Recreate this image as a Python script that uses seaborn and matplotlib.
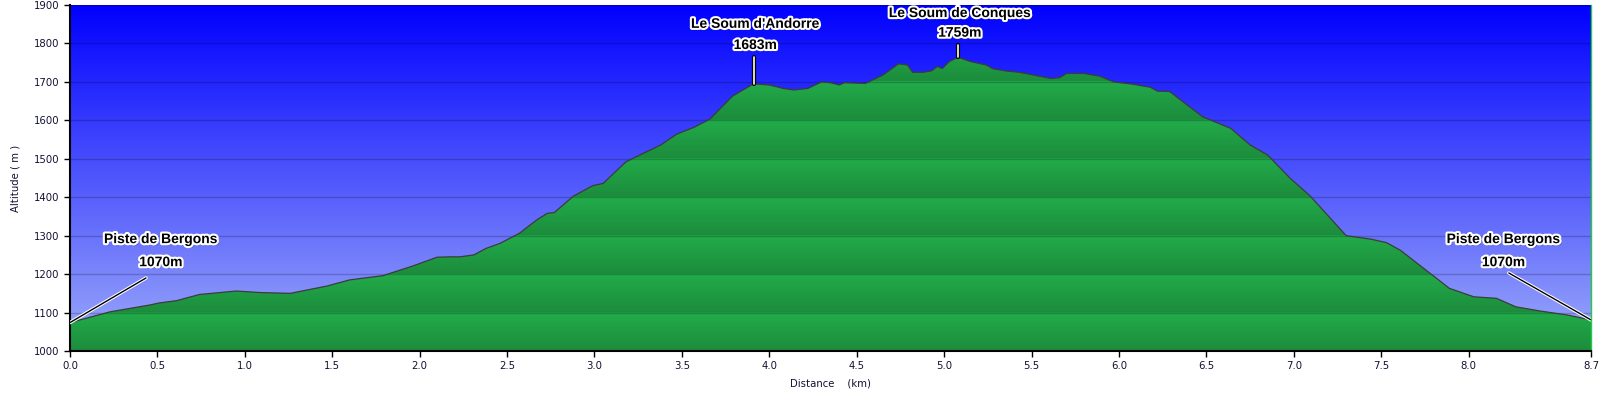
import matplotlib
matplotlib.use("Agg")
import matplotlib.pyplot as plt
import matplotlib.patheffects as pe
import numpy as np
import seaborn as sns

# elevation profile (distance in km, altitude in m)
dist_km = [0.00, 0.23, 0.46, 0.51, 0.61, 0.74, 0.95, 1.09, 1.26, 1.47, 1.60, 1.79, 1.96,
           2.10, 2.17, 2.23, 2.31, 2.38, 2.46, 2.57, 2.67, 2.73, 2.77, 2.88, 2.99, 3.05,
           3.11, 3.18, 3.26, 3.38, 3.47, 3.57, 3.66, 3.72, 3.79, 3.85, 3.91, 4.00, 4.08,
           4.14, 4.22, 4.30, 4.35, 4.40, 4.43, 4.55, 4.65, 4.74, 4.79, 4.82, 4.88, 4.93,
           4.96, 4.99, 5.03, 5.08, 5.15, 5.24, 5.28, 5.36, 5.43, 5.51, 5.61, 5.66, 5.70,
           5.80, 5.89, 5.97, 6.08, 6.18, 6.22, 6.29, 6.39, 6.48, 6.64, 6.75, 6.85, 6.98,
           7.09, 7.20, 7.30, 7.44, 7.53, 7.61, 7.78, 7.89, 8.03, 8.16, 8.27, 8.41, 8.56, 8.70]
alt_m = [1074, 1102, 1120, 1125, 1131, 1147, 1156, 1152, 1150, 1169, 1185, 1196, 1221,
         1244, 1245, 1245, 1250, 1267, 1280, 1306, 1341, 1358, 1360, 1403, 1430, 1436,
         1462, 1492, 1510, 1536, 1564, 1582, 1603, 1631, 1663, 1679, 1695, 1692, 1683,
         1679, 1683, 1700, 1698, 1692, 1698, 1696, 1718, 1747, 1744, 1725, 1725, 1729,
         1740, 1735, 1753, 1764, 1753, 1744, 1734, 1728, 1725, 1718, 1709, 1711, 1722,
         1722, 1715, 1700, 1694, 1686, 1676, 1675, 1640, 1609, 1579, 1536, 1510, 1449,
         1405, 1350, 1300, 1291, 1282, 1262, 1202, 1163, 1141, 1137, 1115, 1104, 1094, 1081]

# waypoint labels
wp_names = ["Piste de Bergons", "Le Soum d'Andorre", "Le Soum de Conques", "Piste de Bergons"]
wp_alt_text = ["1070m", "1683m", "1759m", "1070m"]
wp_km = [0.00, 3.91, 5.08, 8.70]

y_ticks = list(range(1000, 2000, 100))
x_ticks = [0.0, 0.5, 1.0, 1.5, 2.0, 2.5, 3.0, 3.5, 4.0, 4.5, 5.0, 5.5, 6.0, 6.5, 7.0, 7.5, 8.0, 8.7]

sns.set_style("white")
plt.rcParams['font.family'] = ['DejaVu Sans']

fig = plt.figure(figsize=(16, 3.94), dpi=100)
ax = fig.add_axes([0.04375, 0.1091, 0.9506, 0.8782])
xmin, xmax, ymin, ymax = 0, 8.7, 1000, 1900

# sky gradient
top = np.array([0, 0, 255]) / 255
bottom = np.array([158, 172, 250]) / 255
t = np.linspace(0, 1, 256)[:, None]
sky = (top * (1 - t) + bottom * t)[:, None, :]
ax.imshow(sky, extent=[xmin, xmax, ymin, ymax], aspect="auto", zorder=0, interpolation="bilinear")

# terrain fill: green bands, light at the top of each 100 m band
poly = ax.fill_between(dist_km, alt_m, ymin, color="none", lw=0, zorder=1)
yy = np.linspace(ymax, ymin, 900)
frac = ((ymax - yy) % 100) / 100.0
light = np.array([34, 172, 74]) / 255
dark = np.array([28, 140, 60]) / 255
band = (light * (1 - frac[:, None]) + dark * frac[:, None])[:, None, :]
im = ax.imshow(band, extent=[xmin, xmax, ymin, ymax], aspect="auto", zorder=1, interpolation="bilinear")
im.set_clip_path(poly.get_paths()[0], transform=ax.transData)

sns.lineplot(x=dist_km, y=alt_m, ax=ax, color="#3c3c3c", lw=0.9, zorder=3)

for yv in y_ticks[1:]:
    ax.axhline(yv, color="black", alpha=0.2, lw=1, zorder=2)

ax.set_xlim(xmin, xmax)
ax.set_ylim(ymin, ymax)
ax.set_xticks(x_ticks)
ax.set_xticklabels([f"{v:.1f}" for v in x_ticks])
ax.set_yticks(y_ticks)
ax.tick_params(axis="both", direction="out", length=4, width=1, color="black",
               labelsize=7.3, labelcolor="#111133", bottom=True, left=True)
for side in ["left", "bottom"]:
    ax.spines[side].set_color("black")
    ax.spines[side].set_linewidth(1.5)
ax.spines["top"].set_visible(False)
ax.spines["right"].set_color("#22cc44")
ax.spines["right"].set_linewidth(1)
ax.set_xlabel("Distance    (km)", fontsize=7.3, color="#111133", labelpad=5)
ax.set_ylabel("Altitude ( m )", fontsize=7.3, color="#111133", labelpad=10)

# waypoint labels with leader lines
txt_fx = [pe.withSimplePatchShadow(offset=(1.5, -1.5), shadow_rgbFace="#333355", alpha=0.5),
          pe.withStroke(linewidth=3, foreground="white")]
layout = [  # (line end x, line end y, text x, name y, alt y)
    (0.435, 1190, 0.52, 1291, 1231),
    (3.91, 1765, 3.92, 1851, 1796),
    (5.08, 1796, 5.09, 1879, 1828),
    (8.23, 1203, 8.20, 1291, 1231),
]
for name, alt_txt, km, (lx, ly, tx, ny, ay) in zip(wp_names, wp_alt_text, wp_km, layout):
    y0 = np.interp(km, dist_km, alt_m)
    if lx == km:
        ax.plot([km, lx], [y0, ly], color="white", lw=1.2, zorder=5,
                path_effects=[pe.Stroke(linewidth=3, foreground="black"), pe.Normal()])
    else:
        ax.plot([km, lx], [y0, ly], color="black", lw=1, zorder=5,
                path_effects=[pe.Stroke(linewidth=2.5, foreground="white"), pe.Normal()])
    for s, yv in [(name, ny), (alt_txt, ay)]:
        ax.text(tx, yv, s, ha="center", va="center", fontsize=10, fontweight="bold",
                family=["Liberation Sans", "DejaVu Sans"], color="black", zorder=6,
                path_effects=txt_fx)

fig.savefig("out.png", dpi=100)
